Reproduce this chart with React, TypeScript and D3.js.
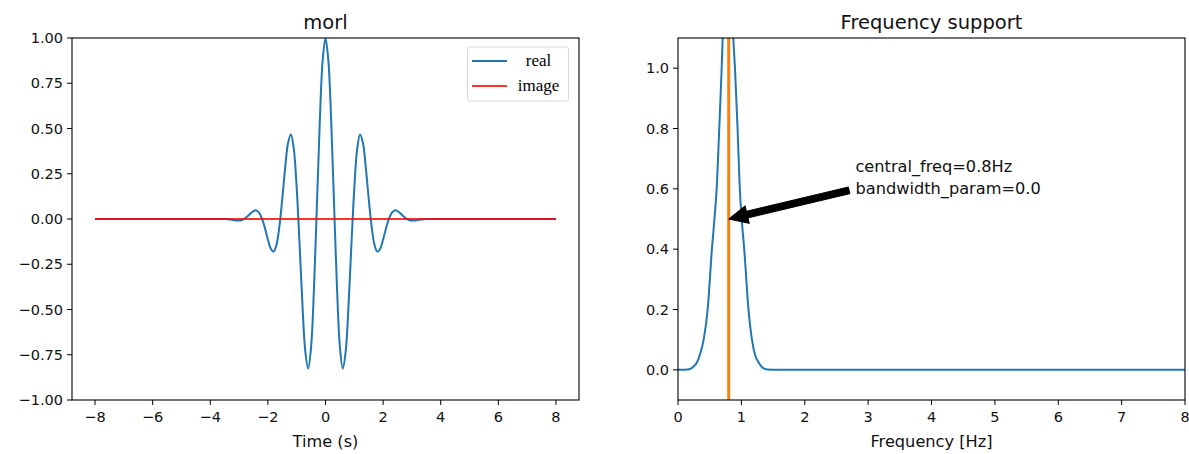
import React from 'react';
import * as d3 from 'd3';

// Morlet wavelet, real part, sampled on the time axis (seconds)
const timeS = [
  -8, -3.5, -3.4, -3.3, -3.2, -3.1, -3.0, -2.9, -2.8, -2.7, -2.6, -2.5, -2.4, -2.3, -2.2, -2.1,
  -2.0, -1.9, -1.8, -1.7, -1.6, -1.5, -1.4, -1.3, -1.2, -1.1, -1.0, -0.9, -0.8, -0.7, -0.6,
  -0.5, -0.4, -0.3, -0.2, -0.1, 0, 0.1, 0.2, 0.3, 0.4, 0.5, 0.6, 0.7, 0.8, 0.9, 1.0, 1.1, 1.2,
  1.3, 1.4, 1.5, 1.6, 1.7, 1.8, 1.9, 2.0, 2.1, 2.2, 2.3, 2.4, 2.5, 2.6, 2.7, 2.8, 2.9, 3.0,
  3.1, 3.2, 3.3, 3.4, 3.5, 8,
];
const realPart = [
  0, 0, -0.0009, -0.003, -0.0057, -0.008, -0.0084, -0.0053, 0.0027, 0.0155, 0.0309, 0.0438,
  0.0474, 0.0343, 0.0004, -0.0524, -0.1136, -0.164, -0.1803, -0.1419, -0.0405, 0.1125, 0.2829,
  0.4195, 0.4674, 0.387, 0.172, -0.1406, -0.4746, -0.733, -0.8269, -0.707, -0.3842, 0.0676,
  0.5296, 0.8732, 1.0, 0.8732, 0.5296, 0.0676, -0.3842, -0.707, -0.8269, -0.733, -0.4746,
  -0.1406, 0.172, 0.387, 0.4674, 0.4195, 0.2829, 0.1125, -0.0405, -0.1419, -0.1803, -0.164,
  -0.1136, -0.0524, 0.0004, 0.0343, 0.0474, 0.0438, 0.0309, 0.0155, 0.0027, -0.0053, -0.0084,
  -0.008, -0.0057, -0.003, -0.0009, 0, 0,
];
// Imaginary part is zero everywhere
const imagTime = [-8, 8];
const imagPart = [0, 0];

// Frequency support of the wavelet
const freqHz = [
  0, 0.15, 0.23, 0.3, 0.345, 0.405, 0.468, 0.535, 0.575, 0.61, 0.651, 0.689, 0.705, 0.79,
  0.872, 0.899, 0.94, 0.975, 1.005, 1.045, 1.112, 1.167, 1.215, 1.27, 1.33, 1.41, 1.6, 8,
];
const support = [
  0, 0.001, 0.008, 0.025, 0.05, 0.1, 0.2, 0.4, 0.5, 0.6, 0.8, 1.0, 1.1, 1.45,
  1.1, 1.0, 0.8, 0.6, 0.5, 0.4, 0.2, 0.1, 0.05, 0.025, 0.008, 0.001, 0, 0,
];
const centralFreq = 0.8;
const bandwidthParam = 0.0;
const arrowTip = [0.8, 0.5];
const arrowText = [2.8, 0.6];

const timeTicks = [-8, -6, -4, -2, 0, 2, 4, 6, 8];
const ampTicks = [-1.0, -0.75, -0.5, -0.25, 0.0, 0.25, 0.5, 0.75, 1.0];
const freqTicks = [0, 1, 2, 3, 4, 5, 6, 7, 8];
const supportTicks = [0.0, 0.2, 0.4, 0.6, 0.8, 1.0];

const W = 1189;
const H = 454;
const SANS = 'DejaVu Sans, sans-serif';
const TICK_FS = 14.5;
const LABEL_FS = 16.2;
const TITLE_FS = 19.5;
const BLUE = '#1f77b4';
const ORANGE = '#ff7f0e';

const fmtMinus = (s: string) => s.replace('-', '\u2212');

type Box = { x0: number; x1: number; y0: number; y1: number };

function Frame({ box, title, xlabel }: { box: Box; title: string; xlabel: string }) {
  return (
    <g>
      <rect x={box.x0} y={box.y0} width={box.x1 - box.x0} height={box.y1 - box.y0}
        fill="none" stroke="#000" strokeWidth={1.1} />
      <text x={(box.x0 + box.x1) / 2} y={box.y0 - 9} textAnchor="middle"
        fontFamily={SANS} fontSize={TITLE_FS} fill="#111">{title}</text>
      <text x={(box.x0 + box.x1) / 2} y={box.y1 + 47} textAnchor="middle"
        fontFamily={SANS} fontSize={LABEL_FS} fill="#111">{xlabel}</text>
    </g>
  );
}

function XTicks({ scale, ticks, y, fmt }: { scale: d3.ScaleLinear<number, number>; ticks: number[]; y: number; fmt: (v: number) => string }) {
  return (
    <g>
      {ticks.map((t) => (
        <g key={t} transform={`translate(${scale(t)},${y})`}>
          <line y2={5} stroke="#000" strokeWidth={1} />
          <text y={22} textAnchor="middle" fontFamily={SANS} fontSize={TICK_FS} fill="#111">
            {fmtMinus(fmt(t))}
          </text>
        </g>
      ))}
    </g>
  );
}

function YTicks({ scale, ticks, x, fmt }: { scale: d3.ScaleLinear<number, number>; ticks: number[]; x: number; fmt: (v: number) => string }) {
  return (
    <g>
      {ticks.map((t) => (
        <g key={t} transform={`translate(${x},${scale(t)})`}>
          <line x2={-5} stroke="#000" strokeWidth={1} />
          <text x={-9} dy="0.36em" textAnchor="end" fontFamily={SANS} fontSize={TICK_FS} fill="#111">
            {fmtMinus(fmt(t))}
          </text>
        </g>
      ))}
    </g>
  );
}

export default function App() {
  const left: Box = { x0: 72, x1: 579, y0: 38, y1: 400 };
  const right: Box = { x0: 678, x1: 1185, y0: 38, y1: 400 };

  // Left panel scales (5% margins on the time range)
  const tx = d3.scaleLinear().domain([-8.8, 8.8]).range([left.x0, left.x1]);
  const ty = d3.scaleLinear().domain([-1, 1]).range([left.y1, left.y0]);
  // Right panel scales
  const fx = d3.scaleLinear().domain([0, 8]).range([right.x0, right.x1]);
  const fy = d3.scaleLinear().domain([-0.1, 1.1]).range([right.y1, right.y0]);

  const realLine = d3.line<number>()
    .x((_, i) => tx(timeS[i]))
    .y((d) => ty(d))
    .curve(d3.curveCatmullRom.alpha(0.5))(realPart) || '';
  const imagLine = d3.line<number>()
    .x((_, i) => tx(imagTime[i]))
    .y((d) => ty(d))(imagPart) || '';
  const supportLine = d3.line<number>()
    .x((_, i) => fx(freqHz[i]))
    .y((d) => fy(d))
    .curve(d3.curveMonotoneX)(support) || '';

  // Annotation arrow (shaft + head), tail shrunk 5% toward the tip
  const tipX = fx(arrowTip[0]);
  const tipY = fy(arrowTip[1]);
  const txtX = fx(arrowText[0]);
  const txtY = fy(arrowText[1]);
  const dx = tipX - txtX;
  const dy = tipY - txtY;
  const len = Math.hypot(dx, dy);
  const ux = dx / len;
  const uy = dy / len;
  const px = -uy;
  const py = ux;
  const tailX = txtX + ux * len * 0.05;
  const tailY = txtY + uy * len * 0.05;
  const shaftW = 3.4;
  const headW = 9;
  const headL = 19;
  const baseX = tipX - ux * headL;
  const baseY = tipY - uy * headL;
  const arrowPts = [
    [tailX + px * shaftW, tailY + py * shaftW],
    [baseX + px * shaftW, baseY + py * shaftW],
    [baseX + px * headW, baseY + py * headW],
    [tipX, tipY],
    [baseX - px * headW, baseY - py * headW],
    [baseX - px * shaftW, baseY - py * shaftW],
    [tailX - px * shaftW, tailY - py * shaftW],
  ].map((p) => p.join(',')).join(' ');

  return (
    <svg width={W} height={H} style={{ position: 'absolute', left: 0, top: 0, background: '#fff' }}>
      <defs>
        <clipPath id="clipL">
          <rect x={left.x0} y={left.y0} width={left.x1 - left.x0} height={left.y1 - left.y0} />
        </clipPath>
        <clipPath id="clipR">
          <rect x={right.x0} y={right.y0} width={right.x1 - right.x0} height={right.y1 - right.y0} />
        </clipPath>
      </defs>
      <rect width={W} height={H} fill="#fff" />

      {/* Left: morl wavelet */}
      <g clipPath="url(#clipL)">
        <path d={realLine} fill="none" stroke={BLUE} strokeWidth={2} strokeLinejoin="round" />
        <path d={imagLine} fill="none" stroke="red" strokeOpacity={0.8} strokeWidth={2} />
      </g>
      <Frame box={left} title="morl" xlabel="Time (s)" />
      <XTicks scale={tx} ticks={timeTicks} y={left.y1} fmt={(v) => d3.format('d')(v)} />
      <YTicks scale={ty} ticks={ampTicks} x={left.x0} fmt={(v) => d3.format('.2f')(v)} />

      {/* Legend */}
      <g>
        <rect x={467.5} y={47} width={101} height={54} rx={3} fill="#fff" fillOpacity={0.8}
          stroke="#d9d9d9" strokeWidth={1} />
        <line x1={472} x2={507} y1={61} y2={61} stroke={BLUE} strokeWidth={2} />
        <line x1={472} x2={507} y1={86} y2={86} stroke="red" strokeOpacity={0.8} strokeWidth={2} />
        <text x={538.5} y={66} textAnchor="middle" fontFamily="Liberation Serif, serif" fontSize={17} fill="#000">real</text>
        <text x={538.5} y={91} textAnchor="middle" fontFamily="Liberation Serif, serif" fontSize={17} fill="#000">image</text>
      </g>

      {/* Right: frequency support */}
      <g clipPath="url(#clipR)">
        <path d={supportLine} fill="none" stroke={BLUE} strokeWidth={2} strokeLinejoin="round" />
        <line x1={fx(centralFreq)} x2={fx(centralFreq)} y1={right.y0} y2={right.y1}
          stroke={ORANGE} strokeWidth={3} />
      </g>
      <Frame box={right} title="Frequency support" xlabel="Frequency [Hz]" />
      <XTicks scale={fx} ticks={freqTicks} y={right.y1} fmt={(v) => d3.format('d')(v)} />
      <YTicks scale={fy} ticks={supportTicks} x={right.x0} fmt={(v) => d3.format('.1f')(v)} />

      {/* Annotation */}
      <polygon points={arrowPts} fill="#000" stroke="#000" strokeWidth={1} strokeLinejoin="miter" />
      <text fontFamily={SANS} fontSize={LABEL_FS} fill="#111">
        <tspan x={txtX} y={txtY - 17}>{`central_freq=${centralFreq}Hz`}</tspan>
        <tspan x={txtX} y={txtY + 5}>{`bandwidth_param=${bandwidthParam.toFixed(1)}`}</tspan>
      </text>
    </svg>
  );
}
